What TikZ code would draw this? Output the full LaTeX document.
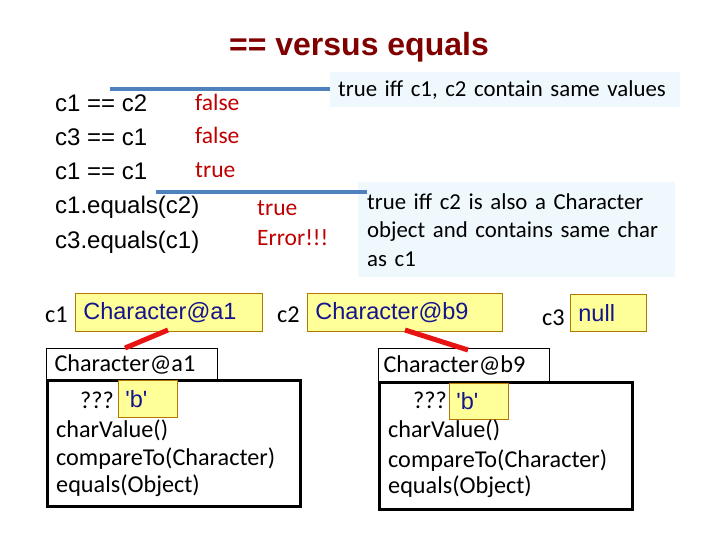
\documentclass[tikz,border=0pt]{standalone}
\usepackage{fontspec}
\newfontfamily\arialf{Liberation Sans}
\newfontfamily\calf{Carlito}
\definecolor{titlered}{RGB}{128,0,0}
\definecolor{valred}{RGB}{192,0,0}
\definecolor{lineblue}{RGB}{79,129,189}
\definecolor{callfill}{RGB}{239,249,253}
\definecolor{yfill}{RGB}{255,255,153}
\definecolor{yborder}{RGB}{180,120,0}
\definecolor{navy}{RGB}{20,20,140}
\definecolor{linkred}{RGB}{232,20,20}
\begin{document}
\begin{tikzpicture}[x=1pt,y=-1pt,
  lt/.style={anchor=base west,inner sep=0pt,font=\arialf\fontsize{24}{28}\selectfont},
  rt/.style={anchor=base west,inner sep=0pt,text=valred,font=\calf\fontsize{23.5}{28}\selectfont},
  ct/.style={anchor=base west,inner sep=0pt,font=\calf\fontsize{24.2}{28}\selectfont},
  callout/.style={fill=callfill,draw=none,anchor=north west,align=left,inner ysep=0pt,font=\calf\fontsize{22.8}{28.5}\selectfont},
  ybox/.style={fill=yfill,draw=yborder,line width=0.8pt,anchor=north west,align=left,inner ysep=0pt,text=navy,font=\arialf\fontsize{23.5}{28}\selectfont},
  hbox/.style={draw=black,line width=1pt,anchor=north west,align=left,inner ysep=0pt,font=\calf\fontsize{24.2}{28}\selectfont},
  bodybox/.style={draw=black,line width=3pt,anchor=north west,inner sep=0pt},
  blueline/.style={draw=lineblue,line width=4pt},
  redlink/.style={draw=linkred,line width=5pt}
]
\useasboundingbox[fill=white] (0,0) rectangle (720,540);

% title
\node[font=\arialf\bfseries\fontsize{32}{36}\selectfont,text=titlered,inner sep=0pt] (title) at (359,47) {== versus equals};

% expressions
\node[lt] (s1) at (55,112) {c1 == c2};
\node[lt] (s2) at (55,146) {c3 == c1};
\node[lt] (s3) at (55,180) {c1 == c1};
\node[lt] (s4) at (55,214) {c1.equals(c2)};
\node[lt] (s5) at (55,248) {c3.equals(c1)};

\node[rt] (v1) at (195,111) {false};
\node[rt] (v2) at (195,144) {false};
\node[rt] (v3) at (195,178) {true};
\node[rt] (v4) at (257,215) {true};
\node[rt] (v5) at (257,245) {Error!!!};

% callouts
\node[callout,text width=334,inner xsep=8,minimum height=35] (cb1) at (330,72) {true iff c1, c2 contain same values};
\node[callout,text width=299,inner xsep=9,minimum height=95] (cb2) at (358,182) {true iff c2 is also a Character\\object and contains same char\\as c1};

\coordinate (b1s) at (110,89);
\draw[blueline] (b1s) -- (b1s -| cb1.west);
\coordinate (b2s) at (156,192);
\coordinate (b2e) at (367,192);
\draw[blueline] (b2s) -- (b2e);

% references
\node[ct] (l1) at (45,322) {c1};
\node[ct] (l2) at (277,322) {c2};
\node[ct] (l3) at (542,325) {c3};
\node[ybox,text width=171,inner xsep=8,minimum height=38] (y1) at (75,293) {Character@a1};
\node[ybox,text width=179,inner xsep=8,minimum height=38] (y2) at (307,293) {Character@b9};
\node[ybox,text width=60,inner xsep=8,minimum height=37] (y3) at (570,294) {null};

% object 1
\node[hbox,text width=155,inner xsep=8,minimum height=31] (h1) at (46,348) {Character@a1};
\node[bodybox,minimum width=253,minimum height=126] (o1) at (46,379) {};
\node[ybox,text width=45,inner xsep=7,minimum height=37] (q1) at (118,380) {\textquotesingle b\textquotesingle};
\node[ct] (qq1) at (80,408) {???};
\node[ct] (m11) at (56,437) {charValue()};
\node[ct] (m12) at (56,465) {compareTo(Character)};
\node[ct] (m13) at (56,492) {equals(Object)};

% object 2
\node[hbox,text width=161,inner xsep=5,minimum height=33] (h2) at (378,348) {Character@b9};
\node[bodybox,minimum width=253,minimum height=127] (o2) at (378,381) {};
\node[ybox,text width=45,inner xsep=7,minimum height=36] (q2) at (449,383) {\textquotesingle b\textquotesingle};
\node[ct] (qq2) at (413,408) {???};
\node[ct] (m21) at (388,437) {charValue()};
\node[ct] (m22) at (388,467) {compareTo(Character)};
\node[ct] (m23) at (388,493) {equals(Object)};

% links
\coordinate (r1a) at (168,330);
\coordinate (r1b) at (125,348);
\draw[redlink] (r1a) -- (r1b);
\coordinate (r2a) at (405,330);
\coordinate (r2b) at (468,350);
\draw[redlink] (r2a) -- (r2b);
\end{tikzpicture}
\end{document}
